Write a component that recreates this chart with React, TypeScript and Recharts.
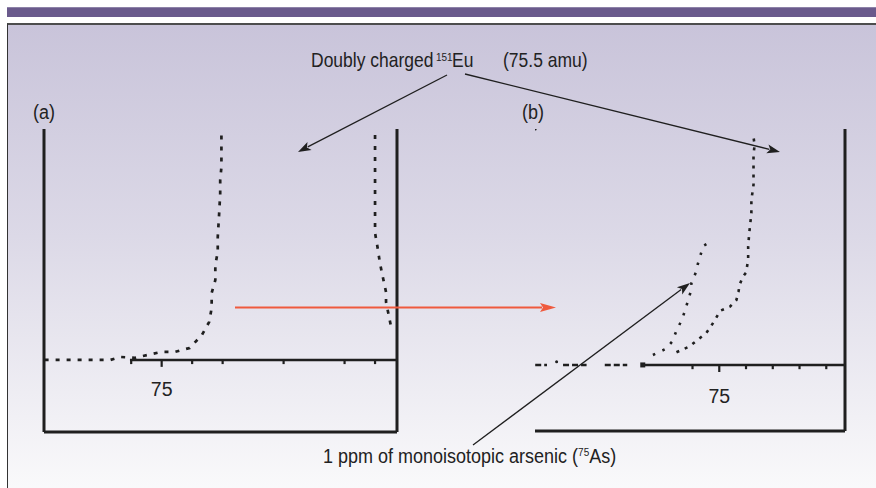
import React from "react";
import { ComposedChart, Line, Scatter, XAxis, YAxis, ReferenceLine } from "recharts";

// mass axis in amu, signal in % of the visible full scale (0 = baseline)
const ink = "#1f1f1f";
const font = "'Liberation Sans', Arial, Helvetica, sans-serif";

// ---- panel (a)
const aDomainX: [number, number] = [74.035, 76.93];
const aDomainY: [number, number] = [-31.2, 100];
const aMinorTicks = [74.75, 75.25, 75.5, 76, 76.5, 76.75];
const aMajorTicks = [75];
const aAxisStart = 74.74;

const aEuRise = [
  { x: 74.04, y: 0 }, { x: 74.58, y: 0 }, { x: 74.66, y: 1.3 }, { x: 74.78, y: 0.9 },
  { x: 74.89, y: 2.2 }, { x: 75.0, y: 3.5 }, { x: 75.11, y: 3.5 }, { x: 75.23, y: 5.2 },
  { x: 75.33, y: 10.8 }, { x: 75.39, y: 16.5 }, { x: 75.41, y: 22.5 }, { x: 75.41, y: 29 },
  { x: 75.44, y: 34.6 }, { x: 75.44, y: 41.1 }, { x: 75.46, y: 46.8 }, { x: 75.46, y: 53.2 },
  { x: 75.47, y: 62 }, { x: 75.48, y: 71.9 }, { x: 75.48, y: 77.9 }, { x: 75.49, y: 83.5 },
  { x: 75.49, y: 89.6 }, { x: 75.49, y: 97.4 },
];
const aEuFall = [
  { x: 76.75, y: 97.4 }, { x: 76.75, y: 83.5 }, { x: 76.75, y: 69.3 }, { x: 76.75, y: 55 },
  { x: 76.77, y: 48.9 }, { x: 76.79, y: 42 }, { x: 76.81, y: 36.8 }, { x: 76.84, y: 29.4 },
  { x: 76.84, y: 25.1 }, { x: 76.88, y: 14.7 },
];

// ---- panel (b)
const bDomainX: [number, number] = [73.278, 76.175];
const bDomainY: [number, number] = [-28, 100];
const bMinorTicks = [74.75, 75.25, 75.5, 75.75, 76];
const bMajorTicks = [75];
const bAxisStart = 74.285;

const bBaseline = [
  { x: 73.28, y: 0 }, { x: 73.39, y: 0 }, { x: 73.45, y: null },
  { x: 73.54, y: 0 }, { x: 73.76, y: 0 }, { x: 73.85, y: null },
  { x: 73.93, y: 0 }, { x: 74.14, y: 0 },
];
const bArsenic = [
  { x: 74.38, y: 4.2 }, { x: 74.5, y: 6.8 }, { x: 74.56, y: 9.9 }, { x: 74.6, y: 14.5 },
  { x: 74.65, y: 19.1 }, { x: 74.68, y: 23 }, { x: 74.73, y: 30.6 }, { x: 74.74, y: 34.7 },
  { x: 74.78, y: 39.1 }, { x: 74.8, y: 42.8 }, { x: 74.85, y: 50.4 }, { x: 74.94, y: 52.7 },
];
const bEu = [
  { x: 74.6, y: 5.4 }, { x: 74.65, y: 6.4 }, { x: 74.72, y: 7.8 }, { x: 74.88, y: 13.6 },
  { x: 74.92, y: 16.2 }, { x: 74.96, y: 19.1 }, { x: 75.01, y: 23 }, { x: 75.1, y: 24.7 },
  { x: 75.16, y: 27.5 }, { x: 75.18, y: 31.1 }, { x: 75.19, y: 33.9 }, { x: 75.22, y: 37.4 },
  { x: 75.25, y: 39.1 }, { x: 75.27, y: 44.5 }, { x: 75.27, y: 50.1 }, { x: 75.28, y: 55.8 },
  { x: 75.29, y: 60 }, { x: 75.3, y: 64.3 }, { x: 75.3, y: 69.9 }, { x: 75.32, y: 76.3 },
  { x: 75.32, y: 80.5 }, { x: 75.32, y: 84.7 }, { x: 75.32, y: 89 }, { x: 75.33, y: 93.2 },
  { x: 75.32, y: 96.7 },
];
const bStray = [{ x: 73.28, y: 100 }, { x: 73.48, y: 1.3 }];
const bMarker = [{ x: bAxisStart, y: 0 }];

const dot = (p: any) => <circle cx={p.cx} cy={p.cy} r={1.5} fill={ink} />;
const square = (p: any) => <rect x={p.cx - 2.5} y={p.cy - 2.5} width={5} height={5} fill={ink} />;

function Panel(props: {
  domainX: [number, number];
  domainY: [number, number];
  minor: number[];
  major: number[];
  axisStart: number;
  labelOffset: number;
  leftEdge: boolean;
  children?: React.ReactNode;
  width: number;
  height: number;
}) {
  const { domainX, domainY, minor, major, axisStart, labelOffset, leftEdge, width, height } = props;
  return (
    <ComposedChart width={width} height={height} margin={{ top: 4, right: 4, bottom: 4, left: 4 }}>
      <XAxis type="number" dataKey="x" domain={domainX} allowDataOverflow hide />
      <YAxis type="number" dataKey="y" domain={domainY} allowDataOverflow hide />
      {/* open-topped frame */}
      {leftEdge && <ReferenceLine x={domainX[0]} stroke={ink} strokeWidth={3} />}
      <ReferenceLine x={domainX[1]} stroke={ink} strokeWidth={3} />
      <ReferenceLine y={domainY[0]} stroke={ink} strokeWidth={3} />
      {/* mass axis drawn at zero signal */}
      <ReferenceLine segment={[{ x: axisStart, y: 0 }, { x: domainX[1], y: 0 }]} stroke={ink} strokeWidth={2.6} />
      {minor.map((t) => (
        <ReferenceLine key={t} segment={[{ x: t, y: 0 }, { x: t, y: -1.8 }]} stroke={ink} strokeWidth={2.2} />
      ))}
      {major.map((t) => (
        <ReferenceLine
          key={t}
          segment={[{ x: t, y: 0 }, { x: t, y: -3 }]}
          stroke={ink}
          strokeWidth={2.2}
          label={{ value: String(t), position: "bottom", offset: labelOffset, fill: "#222", fontSize: 19.5, fontFamily: font }}
        />
      ))}
      {props.children}
    </ComposedChart>
  );
}

function Arrow({ x1, y1, x2, y2, color = ink, w = 1.3, len = 13, half = 4.5 }: any) {
  const a = Math.atan2(y2 - y1, x2 - x1);
  const bx = x2 - len * Math.cos(a);
  const by = y2 - len * Math.sin(a);
  const nx = -Math.sin(a) * half;
  const ny = Math.cos(a) * half;
  return (
    <g>
      <line x1={x1} y1={y1} x2={bx + 2 * Math.cos(a)} y2={by + 2 * Math.sin(a)} stroke={color} strokeWidth={w} />
      <polygon points={`${x2},${y2} ${bx + nx},${by + ny} ${bx + 3 * Math.cos(a)},${by + 3 * Math.sin(a)} ${bx - nx},${by - ny}`} fill={color} />
    </g>
  );
}

// text in the figure is slightly taller than the font's natural proportions
function Tall({ x, y, size, children }: { x: number; y: number; size: number; children: React.ReactNode }) {
  return (
    <text transform={`translate(${x},${y}) scale(1,1.12)`} fontSize={size}>
      {children}
    </text>
  );
}

export default function App() {
  return (
    <div style={{ position: "absolute", left: 0, top: 0, width: 876, height: 488, background: "#fff", overflow: "hidden", fontFamily: font }}>
      <div style={{ position: "absolute", left: 7, top: 7, width: 869, height: 10, background: "#6a5a8c", borderTop: "1px solid #8d82a8", boxSizing: "border-box" }} />
      <div
        style={{
          position: "absolute", left: 7, top: 23, width: 880, height: 470,
          borderTop: "2px solid #4d4d4d", borderLeft: "1.5px solid #333",
          background: "linear-gradient(to bottom, #c9c4da 0%, #dcd9e7 45%, #fafafb 100%)",
        }}
      />

      <div style={{ position: "absolute", left: 40, top: 125 }}>
        <Panel width={361} height={311} domainX={aDomainX} domainY={aDomainY} minor={aMinorTicks} major={aMajorTicks}
          axisStart={aAxisStart} labelOffset={15} leftEdge>
          <Line data={aEuRise} dataKey="y" stroke={ink} strokeWidth={2.7} strokeDasharray="4 7" dot={false} isAnimationActive={false} />
          <Line data={aEuFall} dataKey="y" stroke={ink} strokeWidth={2.7} strokeDasharray="4 7" dot={false} isAnimationActive={false} />
        </Panel>
      </div>

      <div style={{ position: "absolute", left: 531, top: 125 }}>
        <Panel width={318} height={310} domainX={bDomainX} domainY={bDomainY} minor={bMinorTicks} major={bMajorTicks}
          axisStart={bAxisStart} labelOffset={17} leftEdge={false}>
          <Line data={bBaseline} dataKey="y" stroke={ink} strokeWidth={2.4} strokeDasharray="6 3" dot={false} connectNulls={false} isAnimationActive={false} />
          <Line data={bArsenic} dataKey="y" stroke={ink} strokeWidth={2.6} strokeDasharray="2.5 8" dot={false} isAnimationActive={false} />
          <Line data={bEu} dataKey="y" stroke={ink} strokeWidth={2.6} strokeDasharray="3 6" dot={false} isAnimationActive={false} />
          <Scatter data={bStray} dataKey="y" shape={dot} isAnimationActive={false} />
          <Scatter data={bMarker} dataKey="y" shape={square} isAnimationActive={false} />
        </Panel>
      </div>

      <svg width={876} height={488} style={{ position: "absolute", left: 0, top: 0, pointerEvents: "none" }}>
        <g fontFamily={font} fill="#222">
          <Tall x={311} y={67} size={17.5}>Doubly charged</Tall>
          <Tall x={436} y={61} size={10}>151</Tall>
          <Tall x={452} y={67} size={17.5}>Eu</Tall>
          <Tall x={503} y={67} size={17.5}>(75.5 amu)</Tall>
          <Tall x={33} y={119} size={18}>(a)</Tall>
          <Tall x={522} y={119} size={18}>(b)</Tall>
          <Tall x={323} y={463} size={18}>
            1 ppm of monoisotopic arsenic (<tspan fontSize={10} dy={-6}>75</tspan><tspan dy={6}>As)</tspan>
          </Tall>
        </g>
        <Arrow x1={447} y1={75} x2={298} y2={152} />
        <Arrow x1={465} y1={74} x2={780} y2={152} />
        <Arrow x1={473} y1={445} x2={690} y2={283} />
        <Arrow x1={235} y1={307.5} x2={556} y2={307.5} color="#ef5a3e" w={2.2} len={16} half={4.5} />
      </svg>
    </div>
  );
}
